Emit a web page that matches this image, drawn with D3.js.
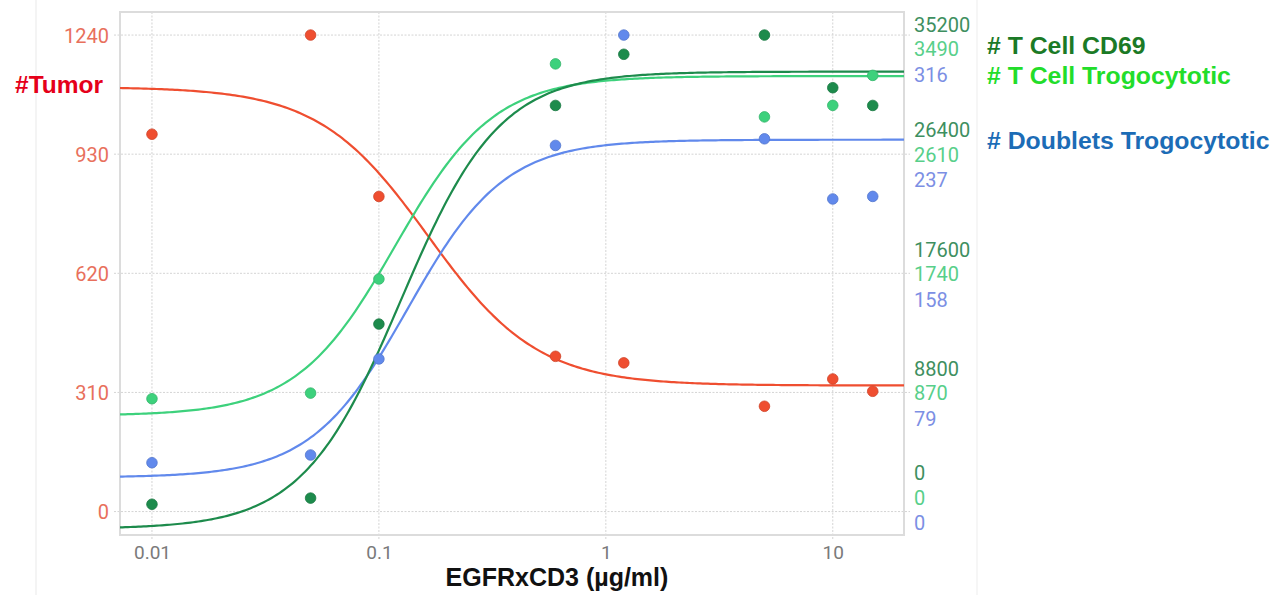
<!DOCTYPE html>
<html>
<head>
<meta charset="utf-8">
<script src="https://cdn.jsdelivr.net/npm/d3@7"></script>
<style>
  html, body { margin: 0; padding: 0; background: #ffffff; }
  svg { display: block; }
</style>
</head>
<body>
<svg id="chart" width="1275" height="595"></svg>
<script>
// ---------------- DATA ----------------
const concentrations = [0.01, 0.05, 0.1, 0.6, 1.2, 5, 10, 15];
const xTickValues = [0.01, 0.1, 1, 10];
const xTickLabels = ["0.01", "0.1", "1", "10"];

// #Tumor (left axis)
const tumorValues = [982, 1240, 820, 404, 387, 274, 345, 313];
const tumorTicks = [0, 310, 620, 930, 1240];
const tumorFit = [1105, 328, 0.165, 1.8];        // top, bottom, EC50, hill (decreasing)

// # T Cell CD69 (right axis, first label row)
const cd69Values = [540, 994, 13850, 30000, 33780, 35200, 31310, 30000];
const cd69Ticks = [0, 8800, 17600, 26400, 35200];
const cd69Fit = [-1280, 32500, 0.125, 2.0];      // bottom, top, EC50, hill

// # T Cell Trogocytotic (right axis, second label row)
const trogX = [0.01, 0.05, 0.1, 0.6, 5, 10, 15];
const trogValues = [824, 865, 1698, 3269, 2882, 2966, 3185];
const trogTicks = [0, 870, 1740, 2610, 3490];
const trogFit = [700, 3180, 0.118, 2.0];

// # Doublets Trogocytotic (right axis, third label row)
const dblValues = [32.4, 37.5, 101.2, 242.8, 316, 247.2, 207.3, 209];
const dblTicks = [0, 79, 158, 237, 316];
const dblFit = [22.6, 246.6, 0.134, 2.04];

// ---------------- LAYOUT ----------------
const svg = d3.select("#chart");
const plot = { left: 120, right: 904, top: 12, bottom: 535 };

const x = d3.scaleLog().domain([0.00723, 20.6]).range([plot.left, plot.right]);
const leftDomain = [-61, 1300];
const yLeft = d3.scaleLinear().domain(leftDomain).range([plot.bottom, plot.top]);
const kCD69 = 35200 / 1240, kTrog = 2806 / 1000, kDbl = 316 / 1240;
const yCD69 = d3.scaleLinear().domain(leftDomain.map(d => d * kCD69)).range([plot.bottom, plot.top]);
const yTrog = d3.scaleLinear().domain(leftDomain.map(d => d * kTrog)).range([plot.bottom, plot.top]);
const yDbl = d3.scaleLinear().domain(leftDomain.map(d => d * kDbl)).range([plot.bottom, plot.top]);

const C = {
  tumor: "#ef4e30", tumorTick: "#e8705c", tumorLabel: "#e5001a",
  cd69: "#1d8b4c", cd69Tick: "#3e8f60", cd69Label: "#1b7a26",
  trog: "#3dd17c", trogTick: "#58cf8a", trogLabel: "#22dd2a",
  dbl: "#6189ec", dblTick: "#7c8fe4", dblLabel: "#1c6cb6",
  grid: "#d4d4d4", frame: "#dcdcdc", xtick: "#7a7a7a"
};

// faint panel edges
svg.append("line").attr("x1", 36).attr("x2", 36).attr("y1", 0).attr("y2", 595)
  .attr("stroke", "#f1f1f1").attr("stroke-width", 1.5);
svg.append("line").attr("x1", 977).attr("x2", 977).attr("y1", 0).attr("y2", 595)
  .attr("stroke", "#f3f3f3").attr("stroke-width", 1.5);

// gridlines
const grid = svg.append("g");
grid.selectAll(".hg").data(tumorTicks).join("line")
  .attr("x1", plot.left - 6).attr("x2", plot.right + 6)
  .attr("y1", d => yLeft(d)).attr("y2", d => yLeft(d))
  .attr("stroke", C.grid).attr("stroke-width", 1).attr("stroke-dasharray", "2,1.5");
grid.selectAll(".vg").data(xTickValues).join("line")
  .attr("x1", d => x(d)).attr("x2", d => x(d))
  .attr("y1", plot.top).attr("y2", plot.bottom + 5)
  .attr("stroke", C.grid).attr("stroke-width", 1).attr("stroke-dasharray", "2,1.5");

// frame
svg.append("rect").attr("x", plot.left).attr("y", plot.top)
  .attr("width", plot.right - plot.left).attr("height", plot.bottom - plot.top)
  .attr("fill", "none").attr("stroke", C.frame).attr("stroke-width", 2);

// left axis (tumor)
const leftAxis = d3.axisLeft(yLeft).tickValues(tumorTicks).tickFormat(d3.format("d"))
  .tickSize(0).tickPadding(11);
const gl = svg.append("g").attr("transform", `translate(${plot.left},0)`).call(leftAxis);
gl.select(".domain").remove();
gl.selectAll("text").attr("fill", C.tumorTick).style("font-family", "Roboto")
  .style("font-size", "20px").attr("dy", "0.36em");

// bottom axis
const bottomAxis = d3.axisBottom(x).tickValues(xTickValues)
  .tickFormat((d, i) => xTickLabels[i]).tickSize(0).tickPadding(11);
const gb = svg.append("g").attr("transform", `translate(0,${plot.bottom})`).call(bottomAxis);
gb.select(".domain").remove();
gb.selectAll("text").attr("fill", C.xtick).style("font-family", "Roboto").style("font-size", "19px");

// right axis: three stacked label rows per tick
const rightRows = [
  { scale: yCD69, ticks: cd69Ticks, color: C.cd69Tick },
  { scale: yTrog, ticks: trogTicks, color: C.trogTick },
  { scale: yDbl, ticks: dblTicks, color: C.dblTick }
];
// vertical offsets of the three rows, per tick (bottom -> top)
const rowOffsets = [[-39, -14, 11], [-24, 0.5, 26], [-24, 0.5, 26], [-24, 0.5, 26], [-10, 15, 40]];
const gr = svg.append("g");
rightRows.forEach((row, r) => {
  gr.selectAll(null).data(row.ticks).join("text")
    .attr("x", plot.right + 10)
    .attr("y", (d, i) => row.scale(d) + rowOffsets[i][r])
    .attr("dy", "0.36em")
    .attr("fill", row.color)
    .style("font-family", "Roboto").style("font-size", "20px")
    .text(d => d);
});

// fitted curves
const samples = d3.range(0, 301).map(i => {
  const [a, b] = x.domain().map(Math.log10);
  return Math.pow(10, a + (b - a) * i / 300);
});
function rising(fit) { return c => fit[0] + (fit[1] - fit[0]) / (1 + Math.pow(fit[2] / c, fit[3])); }
function falling(fit) { return c => fit[1] + (fit[0] - fit[1]) / (1 + Math.pow(c / fit[2], fit[3])); }

const curves = [
  { f: falling(tumorFit), y: yLeft, color: C.tumor },
  { f: rising(dblFit), y: yDbl, color: C.dbl },
  { f: rising(trogFit), y: yTrog, color: C.trog },
  { f: rising(cd69Fit), y: yCD69, color: C.cd69 }
];
const clip = svg.append("clipPath").attr("id", "clip").append("rect")
  .attr("x", plot.left).attr("y", plot.top)
  .attr("width", plot.right - plot.left).attr("height", plot.bottom - plot.top);
const gc = svg.append("g").attr("clip-path", "url(#clip)");
curves.forEach(cv => {
  gc.append("path").datum(samples)
    .attr("d", d3.line().x(d => x(d)).y(d => cv.y(cv.f(d))))
    .attr("fill", "none").attr("stroke", cv.color).attr("stroke-width", 2.2);
});

// points
const pointSets = [
  { xs: concentrations, vs: tumorValues, y: yLeft, color: C.tumor },
  { xs: concentrations, vs: dblValues, y: yDbl, color: C.dbl },
  { xs: trogX, vs: trogValues, y: yTrog, color: C.trog },
  { xs: concentrations, vs: cd69Values, y: yCD69, color: C.cd69 }
];
pointSets.forEach(ps => {
  svg.append("g").selectAll("circle").data(ps.vs).join("circle")
    .attr("cx", (d, i) => x(ps.xs[i]))
    .attr("cy", d => ps.y(d))
    .attr("r", 5.3)
    .attr("fill", ps.color)
    .attr("stroke", d3.color(ps.color).darker(0.4)).attr("stroke-width", 0.8);
});

// axis title
svg.append("text").attr("x", 557).attr("y", 586).attr("text-anchor", "middle")
  .style("font-family", "'Liberation Sans', Arial, sans-serif").style("font-weight", "bold")
  .style("font-size", "25px").attr("fill", "#111").text("EGFRxCD3 (µg/ml)");

// series labels
const labelFont = "'Liberation Sans', Arial, sans-serif";
svg.append("text").attr("x", 15).attr("y", 93)
  .style("font-family", labelFont).style("font-weight", "bold").style("font-size", "24.5px")
  .attr("fill", C.tumorLabel).text("#Tumor");
const legend = [
  { t: "# T Cell CD69", c: C.cd69Label, y: 53.5 },
  { t: "# T Cell Trogocytotic", c: C.trogLabel, y: 83.5 },
  { t: "# Doublets Trogocytotic", c: C.dblLabel, y: 148.5 }
];
svg.append("g").selectAll("text").data(legend).join("text")
  .attr("x", 987).attr("y", d => d.y)
  .style("font-family", labelFont).style("font-weight", "bold").style("font-size", "24.8px")
  .attr("fill", d => d.c).text(d => d.t);
</script>
</body>
</html>
